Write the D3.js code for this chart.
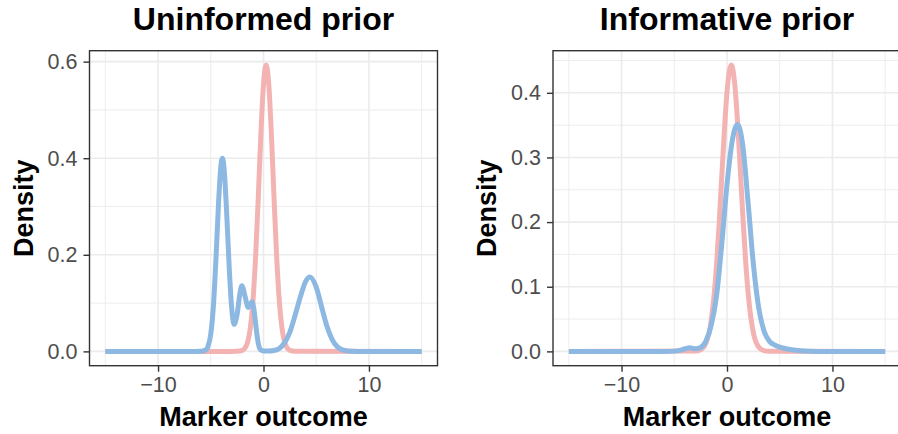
<!DOCTYPE html>
<html>
<head>
<meta charset="utf-8">
<script src="https://cdn.jsdelivr.net/npm/d3@7"></script>
<style>
  html, body { margin: 0; padding: 0; background: #ffffff; }
  svg { display: block; }
  text { font-family: "Liberation Sans", Arial, Helvetica, sans-serif; }
</style>
</head>
<body>
<svg id="chart" width="898" height="434"></svg>
<script>
// ---------------- DATA ----------------
const panelTitles = ["Uninformed prior", "Informative prior"];
const xAxisTitle = "Marker outcome";
const yAxisTitle = "Density";
const xTickValues = [-10, 0, 10];
const xMinorValues = [-15, -5, 5, 15];
const xDataRange = [-15, 15];
const yTicksUninformed = [0, 0.2, 0.4, 0.6];
const yMinorUninformed = [0.1, 0.3, 0.5];
const yTicksInformative = [0, 0.1, 0.2, 0.3, 0.4];
const yMinorInformative = [0.05, 0.15, 0.25, 0.35, 0.45];

// Uninformed prior – pink curve
const uninfPinkX = [-15, -3, -2.5, -2, -1.75, -1.5, -1.25, -1, -0.75, -0.5, -0.25, 0, 0.25, 0.5, 0.75, 1, 1.25, 1.5, 1.75, 2, 2.25, 2.5, 3, 15];
const uninfPinkY = [0, 0, 0.0001, 0.0021, 0.0069, 0.0196, 0.0484, 0.104, 0.195, 0.317, 0.449, 0.553, 0.593, 0.553, 0.449, 0.317, 0.195, 0.104, 0.0484, 0.0196, 0.0069, 0.0021, 0.0001, 0];

// Uninformed prior – blue curve
const uninfBlueX = [-15, -6.5, -6, -5.5, -5.25, -5, -4.75, -4.5, -4.25, -4, -3.9, -3.75, -3.5, -3.25, -3, -2.8, -2.5, -2.25, -2.05, -1.75, -1.45, -1.25, -1.1, -0.9, -0.75, -0.5, -0.25, 0, 0.5, 1, 1.5, 2, 2.5, 3, 3.5, 4, 4.4, 5, 5.5, 6, 6.5, 7, 7.5, 8, 9, 15];
const uninfBlueY = [0, 0, 0.0002, 0.0025, 0.011, 0.036, 0.094, 0.195, 0.313, 0.392, 0.400, 0.382, 0.290, 0.173, 0.086, 0.056, 0.077, 0.118, 0.136, 0.114, 0.091, 0.097, 0.103, 0.086, 0.058, 0.017, 0.003, 0.001, 0.001, 0.002, 0.006, 0.018, 0.040, 0.075, 0.113, 0.145, 0.154, 0.133, 0.093, 0.053, 0.025, 0.0094, 0.003, 0.0007, 0, 0];

// Informative prior – pink curve
const infPinkX = [-15, -3, -2.5, -2, -1.5, -1.25, -1, -0.75, -0.5, -0.25, 0, 0.4, 0.5, 0.75, 1, 1.25, 1.5, 1.75, 2, 2.25, 2.5, 3, 3.5, 4, 15];
const infPinkY = [0, 0.0004, 0.0025, 0.0127, 0.0477, 0.0825, 0.132, 0.196, 0.269, 0.341, 0.401, 0.443, 0.440, 0.411, 0.355, 0.284, 0.210, 0.144, 0.091, 0.0537, 0.029, 0.0068, 0.0012, 0.0002, 0];

// Informative prior – blue curve
const infBlueX = [-15, -6, -5, -4.5, -4, -3.5, -3, -2.5, -2, -1.5, -1, -0.5, 0, 0.5, 1, 1.5, 2, 2.5, 3, 3.5, 4, 4.5, 5, 5.5, 6, 7, 8, 9, 15];
const infBlueY = [0, 0, 0.0004, 0.0015, 0.004, 0.0055, 0.004, 0.006, 0.016, 0.040, 0.085, 0.165, 0.258, 0.326, 0.351, 0.318, 0.230, 0.135, 0.068, 0.032, 0.016, 0.010, 0.0065, 0.0045, 0.003, 0.001, 0.0003, 0, 0];

const pinkColor = "#F3B3B3";
const blueColor = "#8CB8E2";

// ---------------- LAYOUT ----------------
const svg = d3.select("#chart");
const panelTop = 50.7, panelBottom = 365.7, panelWidth = 348;
const panels = [
  { title: panelTitles[0], x0: 89.5, yTicks: yTicksUninformed, yMinor: yMinorUninformed,
    series: [ {x: uninfPinkX, y: uninfPinkY, color: pinkColor}, {x: uninfBlueX, y: uninfBlueY, color: blueColor} ] },
  { title: panelTitles[1], x0: 553, yTicks: yTicksInformative, yMinor: yMinorInformative,
    series: [ {x: infPinkX, y: infPinkY, color: pinkColor}, {x: infBlueX, y: infBlueY, color: blueColor} ] }
];

panels.forEach(p => {
  const xSpan = xDataRange[1] - xDataRange[0];
  const x = d3.scaleLinear()
    .domain([xDataRange[0] - 0.05 * xSpan, xDataRange[1] + 0.05 * xSpan])
    .range([p.x0, p.x0 + panelWidth]);
  const yMax = d3.max(p.series, s => d3.max(s.y));
  const y = d3.scaleLinear()
    .domain([-0.05 * yMax, yMax * 1.05])
    .range([panelBottom, panelTop]);

  const g = svg.append("g");
  const clipId = "clip" + Math.round(p.x0);
  svg.append("clipPath").attr("id", clipId).append("rect")
    .attr("x", p.x0).attr("y", panelTop).attr("width", panelWidth).attr("height", panelBottom - panelTop);

  // grid minor
  g.selectAll(".gxm").data(xMinorValues).enter().append("line")
    .attr("x1", d => x(d)).attr("x2", d => x(d)).attr("y1", panelTop).attr("y2", panelBottom)
    .attr("stroke", "#EBEBEB").attr("stroke-width", 0.9);
  g.selectAll(".gym").data(p.yMinor).enter().append("line")
    .attr("y1", d => y(d)).attr("y2", d => y(d)).attr("x1", p.x0).attr("x2", p.x0 + panelWidth)
    .attr("stroke", "#EBEBEB").attr("stroke-width", 0.9);
  // grid major
  g.selectAll(".gx").data(xTickValues).enter().append("line")
    .attr("x1", d => x(d)).attr("x2", d => x(d)).attr("y1", panelTop).attr("y2", panelBottom)
    .attr("stroke", "#EBEBEB").attr("stroke-width", 1.6);
  g.selectAll(".gy").data(p.yTicks).enter().append("line")
    .attr("y1", d => y(d)).attr("y2", d => y(d)).attr("x1", p.x0).attr("x2", p.x0 + panelWidth)
    .attr("stroke", "#EBEBEB").attr("stroke-width", 1.6);

  // curves
  const line = d3.line().curve(d3.curveMonotoneX).x(d => x(d[0])).y(d => y(d[1]));
  p.series.forEach(s => {
    const pts = s.x.map((v, i) => [v, s.y[i]]);
    g.append("path").datum(pts).attr("d", line)
      .attr("fill", "none").attr("stroke", s.color).attr("stroke-width", 5)
      .attr("stroke-linejoin", "round").attr("stroke-linecap", "butt")
      .attr("clip-path", `url(#${clipId})`);
  });

  // border
  g.append("rect").attr("x", p.x0).attr("y", panelTop).attr("width", panelWidth).attr("height", panelBottom - panelTop)
    .attr("fill", "none").attr("stroke", "#333333").attr("stroke-width", 1.4);

  // x axis
  const xAxis = g.append("g").attr("transform", `translate(0,${panelBottom})`)
    .call(d3.axisBottom(x).tickValues(xTickValues).tickSize(6).tickPadding(5));
  xAxis.select(".domain").remove();
  xAxis.selectAll(".tick line").attr("stroke", "#333333").attr("stroke-width", 1.4);
  xAxis.selectAll(".tick text").attr("fill", "#4D4D4D").attr("font-size", "21.5px")
    .attr("font-family", "Liberation Sans, Arial, sans-serif").attr("dy", "0.71em");

  // y axis
  const yAxis = g.append("g").attr("transform", `translate(${p.x0},0)`)
    .call(d3.axisLeft(y).tickValues(p.yTicks).tickFormat(d3.format(".1f")).tickSize(6).tickPadding(6));
  yAxis.select(".domain").remove();
  yAxis.selectAll(".tick line").attr("stroke", "#333333").attr("stroke-width", 1.4);
  yAxis.selectAll(".tick text").attr("fill", "#4D4D4D").attr("font-size", "21.5px")
    .attr("font-family", "Liberation Sans, Arial, sans-serif");

  // titles
  svg.append("text").attr("x", p.x0 + panelWidth / 2).attr("y", 29.5)
    .attr("text-anchor", "middle").attr("font-weight", "bold").attr("font-size", "32px")
    .attr("fill", "#000").text(p.title);
  svg.append("text").attr("x", p.x0 + panelWidth / 2).attr("y", 426)
    .attr("text-anchor", "middle").attr("font-weight", "bold").attr("font-size", "27px")
    .attr("fill", "#000").text(xAxisTitle);
  svg.append("text")
    .attr("transform", `translate(${p.x0 - 57},${(panelTop + panelBottom) / 2}) rotate(-90)`)
    .attr("text-anchor", "middle").attr("font-weight", "bold").attr("font-size", "27px")
    .attr("fill", "#000").text(yAxisTitle);
});
</script>
</body>
</html>
